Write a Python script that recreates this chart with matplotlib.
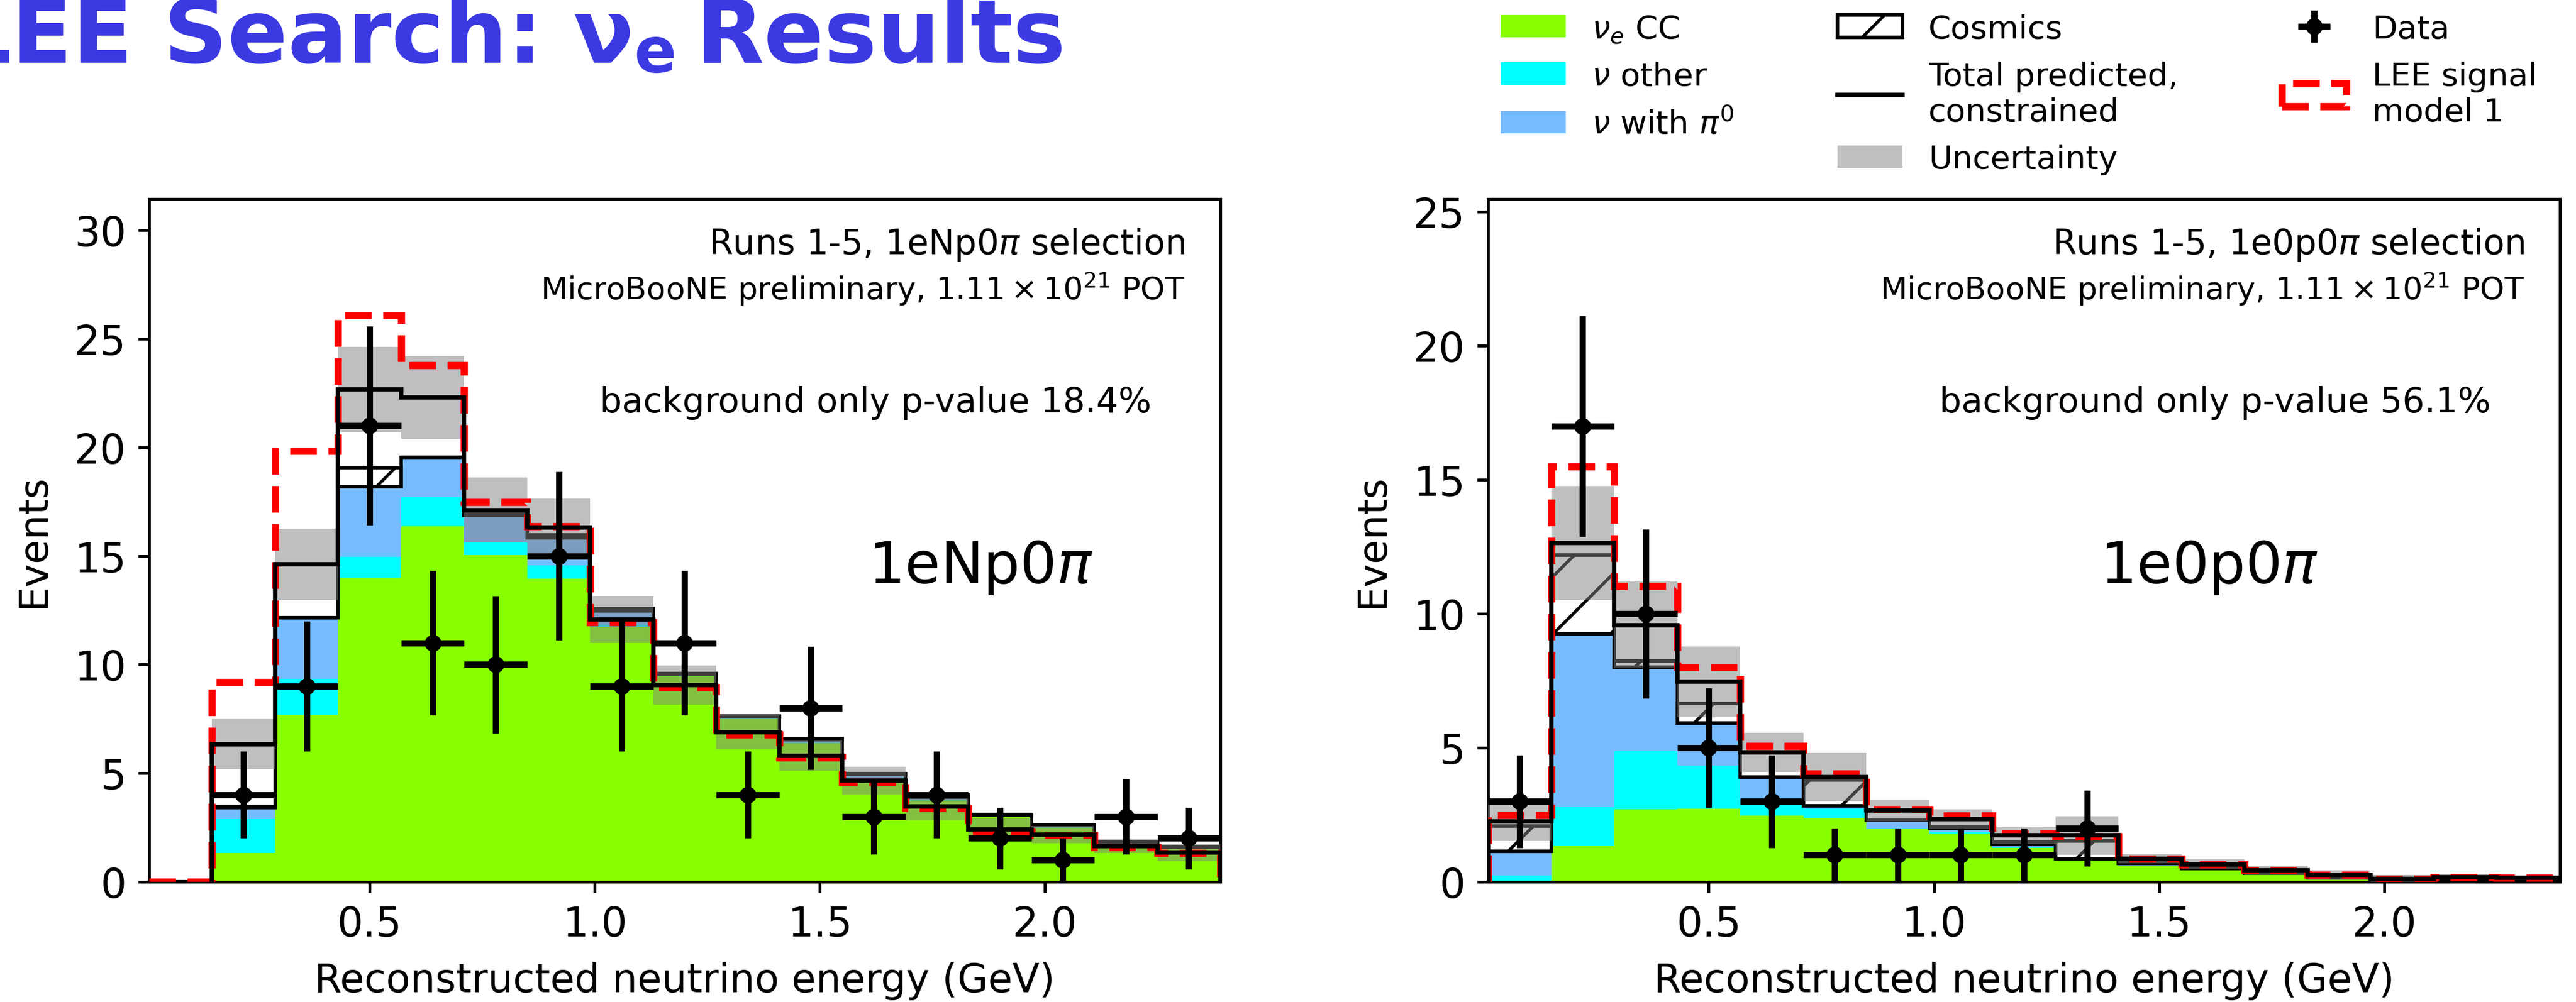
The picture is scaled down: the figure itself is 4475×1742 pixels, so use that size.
import matplotlib
matplotlib.use('Agg')
import matplotlib.pyplot as plt
import numpy as np

plt.rcParams['font.family'] = ['DejaVu Sans']
plt.rcParams['mathtext.fontset'] = 'dejavusans'
plt.rcParams['hatch.linewidth'] = 1.3

# binning (GeV)
edges = np.round(0.01 + 0.14 * np.arange(18), 2)
centers = 0.5 * (edges[:-1] + edges[1:])
widths = np.diff(edges)

# 1eNp0pi selection
np_nue = [0, 1.33, 7.67, 13.99, 16.38, 15.05, 13.95, 11.73, 9.45, 7.50, 6.38, 4.77, 3.73, 3.02, 2.50, 1.75, 1.55]
np_other = [0, 1.56, 1.67, 0.98, 1.33, 0.59, 0.63, 0.12, 0.05, 0.05, 0.04, 0.03, 0.07, 0.03, 0.05, 0.03, 0.02]
np_pi0 = [0, 0.53, 2.81, 3.23, 1.84, 1.23, 1.27, 0.62, 0.05, 0.05, 0.13, 0.15, 0.10, 0.03, 0.05, 0.02, 0.03]
np_cosmic = [0, 0.04, 0, 0.87, 0, 0.08, 0.11, 0.10, 0.05, 0.02, 0.05, 0.03, 0.10, 0.03, 0.02, 0.03, 0.01]
np_constr = [0, 6.34, 14.63, 22.66, 22.30, 17.12, 16.32, 12.08, 9.05, 6.89, 5.81, 4.66, 3.47, 2.40, 2.18, 1.65, 1.36]
np_unc = [0, 1.15, 1.64, 1.96, 1.90, 1.50, 1.32, 1.09, 0.90, 0.80, 0.71, 0.63, 0.63, 0.53, 0.40, 0.33, 0.40]
np_lee = [0, 9.19, 19.83, 26.10, 23.78, 17.48, 16.38, 11.95, 8.94, 6.78, 5.72, 4.58, 3.40, 2.33, 2.15, 1.58, 1.33]
np_data = [0, 4, 9, 21, 11, 10, 15, 9, 11, 4, 8, 3, 4, 2, 1, 3, 2]

# 1e0p0pi selection
zp_nue = [0, 1.34, 2.70, 2.73, 2.46, 2.38, 1.98, 1.80, 1.27, 0.80, 0.58, 0.47, 0.29, 0.12, 0.05, 0.08, 0.06]
zp_other = [0.23, 1.45, 2.17, 1.61, 0.61, 0.35, 0.02, 0.07, 0.03, 0.02, 0.02, 0.01, 0.01, 0.01, 0.01, 0.01, 0.01]
zp_pi0 = [0.91, 6.46, 3.13, 1.58, 0.84, 0.11, 0.30, 0.13, 0.10, 0.03, 0.08, 0.02, 0.03, 0.02, 0.01, 0.01, 0.01]
zp_cosmic = [0.95, 2.94, 0.24, 0.73, 0, 0.97, 0, 0.05, 0.08, 0.67, 0.04, 0.02, 0.02, 0.02, 0.01, 0.02, 0.02]
zp_constr = [2.25, 12.64, 9.58, 7.46, 4.82, 3.91, 2.66, 2.34, 1.73, 1.73, 0.86, 0.65, 0.43, 0.25, 0.11, 0.18, 0.15]
zp_unc = [0.73, 2.12, 1.62, 1.33, 0.73, 0.90, 0.40, 0.36, 0.32, 0.72, 0.18, 0.18, 0.17, 0.18, 0.14, 0.10, 0.08]
zp_lee = [2.48, 15.49, 11.04, 8.00, 5.06, 4.04, 2.70, 2.46, 1.80, 1.70, 0.86, 0.65, 0.43, 0.25, 0.11, 0.18, 0.15]
zp_data = [3, 17, 10, 5, 3, 1, 1, 1, 1, 2, 0, 0, 0, 0, 0, 0, 0]

c_nue = '#88ff00'
c_other = '#00ffff'
c_pi0 = '#77bbff'


def draw_panel(ax, nue, other, pi0, cosmic, constr, unc, lee, data):
    nue, other, pi0, cosmic = map(np.asarray, (nue, other, pi0, cosmic))
    constr, unc, data = np.asarray(constr), np.asarray(unc), np.asarray(data)
    b1 = nue
    b2 = b1 + other
    b3 = b2 + pi0
    tot = b3 + cosmic
    left = edges[:-1]
    ax.bar(left, nue, widths, align='edge', color=c_nue, lw=0, zorder=1, label=r'$\nu_e$ CC')
    ax.bar(left, other, widths, bottom=b1, align='edge', color=c_other, lw=0, zorder=1, label=r'$\nu$ other')
    ax.bar(left, pi0, widths, bottom=b2, align='edge', color=c_pi0, lw=0, zorder=1, label=r'$\nu$ with $\pi^0$')
    ax.bar(left, cosmic, widths, bottom=b3, align='edge', facecolor='white', edgecolor='black',
           hatch='/', lw=1.5, zorder=1.5, label='Cosmics')
    ax.stairs(tot, edges, color='black', lw=1.4, zorder=2)
    ax.bar(left, 2 * unc, widths, bottom=constr - unc, align='edge', color='gray', alpha=0.5,
           lw=0, zorder=3, label='Uncertainty')
    ax.hist(centers, bins=edges, weights=lee, histtype='step', color='red', ls='--', lw=3,
            zorder=4, label='LEE signal\nmodel 1')
    s = int(np.argmax(constr > 0))
    ax.stairs(constr[s:], edges[s:], color='black', lw=1.8, zorder=5, label='Total predicted,\nconstrained')
    m = data > 0
    ax.errorbar(centers[m], data[m], yerr=np.sqrt(data[m]), xerr=widths[m] / 2, fmt='o', color='black',
                ms=6, elinewidth=2.6, capsize=0, zorder=6, label='Data')
    ax.set_xlim(edges[0], edges[-1])
    ax.set_xticks([0.5, 1.0, 1.5, 2.0])
    ax.set_xlabel('Reconstructed neutrino energy (GeV)', fontsize=16.5, labelpad=7)
    ax.set_ylabel('Events', fontsize=16.5, labelpad=9)
    ax.tick_params(labelsize=17, width=1.2, length=4.5, pad=5)
    for sp in ax.spines.values():
        sp.set_linewidth(1.2)


fig = plt.figure(figsize=(4475 / 300, 1743 / 300), dpi=300)
W, H = 4475, 1743
ax1 = fig.add_axes([259 / W, 1 - 1534 / H, (2120 - 259) / W, (1534 - 347) / H])
ax2 = fig.add_axes([2585 / W, 1 - 1534 / H, (4447 - 2585) / W, (1534 - 347) / H])

draw_panel(ax1, np_nue, np_other, np_pi0, np_cosmic, np_constr, np_unc, np_lee, np_data)
draw_panel(ax2, zp_nue, zp_other, zp_pi0, zp_cosmic, zp_constr, zp_unc, zp_lee, zp_data)
ax1.set_ylim(0, 31.44)
ax1.set_yticks(range(0, 31, 5))
ax2.set_ylim(0, 25.48)
ax2.set_yticks(range(0, 26, 5))

for ax, sel, pval, xt in [(ax1, '1eNp0', '18.4', 0.671), (ax2, '1e0p0', '56.1', 0.571)]:
    ax.text(0.967, 0.920, 'Runs 1-5, ' + sel + r'$\pi$ selection', transform=ax.transAxes,
            ha='right', va='baseline', fontsize=14.5)
    ax.text(0.967, 0.853, r'MicroBooNE preliminary, $1.11 \times 10^{21}$ POT', transform=ax.transAxes,
            ha='right', va='baseline', fontsize=13)
    ax.text(0.9355, 0.6885, 'background only p-value ' + pval + '%', transform=ax.transAxes,
            ha='right', va='baseline', fontsize=14.5)
    ax.text(xt, 0.438, sel + r'$\pi$', transform=ax.transAxes, ha='left', va='baseline', fontsize=24)

# legend: order column by column
h, l = ax1.get_legend_handles_labels()
order = [r'$\nu_e$ CC', r'$\nu$ other', r'$\nu$ with $\pi^0$', 'Cosmics', 'Total predicted,\nconstrained',
         'Uncertainty', 'Data', 'LEE signal\nmodel 1']
hd = dict(zip(l, h))
fig.legend([hd[k] for k in order], order, ncol=3, loc='upper left', bbox_to_anchor=(0.5713, 1.015),
           frameon=False, fontsize=13.5, columnspacing=3.2)

# slide title (cropped at the left edge, as on the slide)
tkw = dict(color='#3b39e2', fontweight='bold', family='DejaVu Sans')
r = fig.canvas.get_renderer()
yb = 1 - 109 / H
t1 = fig.text(-78 / W, yb, 'LEE Search: ν', ha='left', va='baseline', fontsize=37, **tkw)
bb = t1.get_window_extent(r)
t2 = fig.text(bb.x1 / W, yb - 16 / H, 'e', ha='left', va='baseline', fontsize=26, **tkw)
bb2 = t2.get_window_extent(r)
fig.text((bb2.x1 + 34) / W, yb, 'Results', ha='left', va='baseline', fontsize=37, **tkw)

fig.savefig('out.png', dpi=300)
